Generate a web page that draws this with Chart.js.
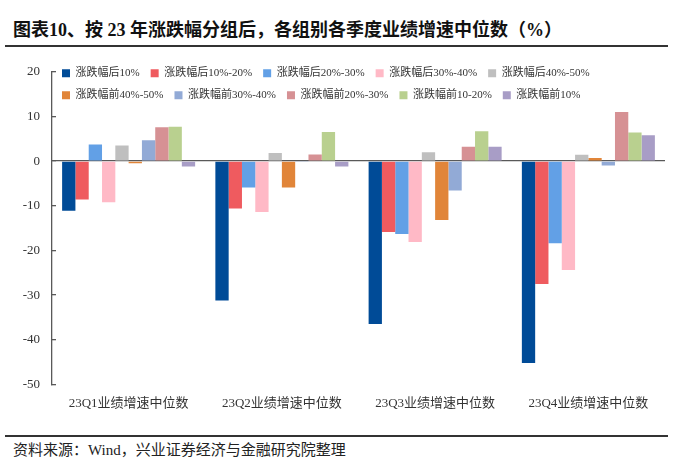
<!DOCTYPE html>
<html>
<head>
<meta charset="utf-8">
<script src="https://cdn.jsdelivr.net/npm/chart.js@4.4.1/dist/chart.umd.min.js"></script>
<style>
  body{margin:0;background:#fff;width:700px;height:472px;position:relative;overflow:hidden;}
  #title{position:absolute;left:13px;top:15px;font:bold 18px 'Liberation Serif','Noto Sans CJK SC';color:#111;white-space:nowrap;}
  .rule{position:absolute;left:5px;width:663px;height:1.5px;background:#333;}
  #src{position:absolute;left:13px;top:438px;font:15px 'Liberation Serif','Noto Sans CJK SC';color:#222;white-space:nowrap;}
  #wrap{position:absolute;left:0;top:48px;width:700px;height:380px;}
</style>
</head>
<body>
<div id="title">图表10、按 23 年涨跌幅分组后，各组别各季度业绩增速中位数（%）</div>
<div class="rule" style="top:45px"></div>
<div id="wrap"><canvas id="chart" width="700" height="380"></canvas></div>
<div class="rule" style="top:435px"></div>
<div id="src">资料来源：Wind，兴业证券经济与金融研究院整理</div>
<script>
//Data
const quarters = ['23Q1业绩增速中位数','23Q2业绩增速中位数','23Q3业绩增速中位数','23Q4业绩增速中位数'];
const groupNames = ['涨跌幅后10%','涨跌幅后10%-20%','涨跌幅后20%-30%','涨跌幅后30%-40%','涨跌幅后40%-50%',
                    '涨跌幅前40%-50%','涨跌幅前30%-40%','涨跌幅前20%-30%','涨跌幅前10-20%','涨跌幅前10%'];
const groupColors = ['#004b97','#ef5b5f','#62a0e6','#ffb9c6','#bfbfbf',
                     '#e18539','#92aad6','#d69194','#b9d08f','#a89dc6'];

// one array per group: Q1, Q2, Q3, Q4
const back10   = [-11.1, -31.2, -36.5, -45.2];
const back1020 = [-8.6, -10.6, -15.9, -27.5];
const back2030 = [3.7, -5.9, -16.3, -18.4];
const back3040 = [-9.2, -11.4, -18.1, -24.4];
const back4050 = [3.5, 1.8, 2.0, 1.4];
const front4050 = [-0.5, -5.9, -13.2, 0.7];
const front3040 = [4.7, -0.2, -6.6, -1.0];
const front2030 = [7.6, 1.5, 3.2, 11.0];
const front1020 = [7.7, 6.5, 6.7, 6.4];
const front10   = [-1.2, -1.2, 3.2, 5.8];

const yTicks = [20, 10, 0, -10, -20, -30, -40, -50];

const seriesList = [back10, back1020, back2030, back3040, back4050,
                    front4050, front3040, front2030, front1020, front10];

const serif = "'Liberation Serif','Noto Sans CJK SC'";

// legend takes no room in the layout, then gets placed over the top of the plot
const legendOverlay = {
    id:'legendOverlay',
    beforeLayout(chart){
        const lg = chart.legend;
        if(lg && !lg._noRoom){
            const fit = lg.fit.bind(lg);
            lg.fit = function(){ fit(); this.height = 0; };
            lg._noRoom = true;
        }
    },
    afterLayout(chart){
        const lg = chart.legend;
        lg.top = chart.chartArea.top - 15;
        lg.bottom = lg.top + 70;
        lg.height = 70;
        lg.left = chart.chartArea.left - 1;
        lg.right = 700;
    }
};

const ctx = document.querySelector('#chart');

const theChart = new Chart(ctx,{
    type:'bar',
    data:{
        labels: quarters,
        datasets: seriesList.map((vals,i)=>({
            label: groupNames[i],
            data: vals,
            backgroundColor: groupColors[i],
            borderWidth: 0,
            categoryPercentage: 0.868,
            barPercentage: 1
        }))
    },
    options:{
        responsive:false,
        maintainAspectRatio:false,
        animation:false,
        layout:{padding:{left:0,right:35,top:22,bottom:6}},
        plugins:{
            legend:{
                position:'top',
                align:'start',
                labels:{
                    boxWidth:8,
                    boxHeight:8,
                    padding:11,
                    color:'#333',
                    font:{family:serif,size:11}
                }
            },
            tooltip:{enabled:false}
        },
        scales:{
            x:{
                grid:{display:false,drawTicks:false},
                border:{display:false},
                ticks:{color:'#333',padding:11,maxRotation:0,autoSkip:false,font:{family:serif,size:13}}
            },
            y:{
                min:-50,
                max:20,
                z:1,
                afterBuildTicks:(scale)=>{ scale.ticks = yTicks.map(v=>({value:v})); },
                afterFit:(scale)=>{ scale.width = 52; },
                grid:{
                    drawOnChartArea:true,
                    color:(c)=> c.tick && c.tick.value===0 ? '#595959' : 'rgba(0,0,0,0)',
                    lineWidth:1.3,
                    tickColor:'#595959',
                    tickLength:-4
                },
                border:{display:true,color:'#595959',width:1.3},
                ticks:{color:'#333',padding:16,font:{family:serif,size:13}}
            }
        }
    },
    plugins:[legendOverlay]
});
</script>
</body>
</html>
